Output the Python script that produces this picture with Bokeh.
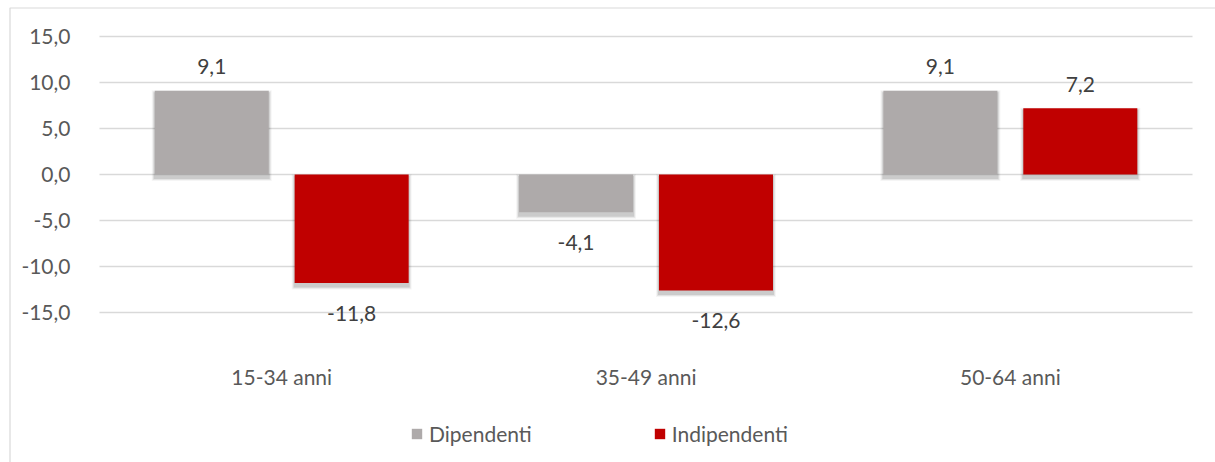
from bokeh.plotting import figure
from bokeh.models import (Range1d, LinearAxis, FixedTicker, CustomJSTickFormatter,
                          Legend, LegendItem, ColumnDataSource)
from bokeh.core.properties import value
from bokeh.embed import file_html
from bokeh.resources import INLINE

# ---- data -------------------------------------------------------------
categories = ["15-34 anni", "35-49 anni", "50-64 anni"]
series_names = ["Dipendenti", "Indipendenti"]
dipendenti = [9.1, -4.1, 9.1]
indipendenti = [-11.8, -12.6, 7.2]
y_ticks = [-15, -10, -5, 0, 5, 10, 15]

# ---- styling ----------------------------------------------------------
W, H = 1215, 462
FONT = "Lato"
FONT_SIZE = "21px"
GRAY = "#AEAAAA"
RED = "#C00000"
AXIS_TEXT = "#595959"
LABEL_TEXT = "#404040"
GRID = "#D9D9D9"

# pixel geometry of the chart area
CAT_PX = 364.33   # width of one category slot
X0_PX = 281.2     # centre of the first category
Y0_PX = 174.0     # position of the zero line
UNIT_PX = 9.2     # pixels per unit on the value axis
BAR_W = 0.313     # bar width in category units
DODGE = 0.192     # offset of each bar from the category centre


def xd(px):
    return (px - X0_PX) / CAT_PX


def yd(py):
    return (Y0_PX - py) / UNIT_PX


p = figure(width=W, height=H,
           x_range=Range1d(xd(0), xd(W)), y_range=Range1d(yd(H), yd(0)),
           x_axis_type=None, y_axis_type=None,
           output_backend="svg", toolbar_location=None,
           min_border_left=0, min_border_right=0, min_border_top=0, min_border_bottom=0)
p.outline_line_color = None
p.background_fill_color = "white"
p.border_fill_color = "white"

# chart border (top and left edges)
p.line(x=[xd(9.5), xd(9.5), xd(W + 5)], y=[yd(H + 5), yd(7.5), yd(7.5)],
       line_color="#D9D9D9", line_width=1.2)

# horizontal gridlines
p.segment(x0=xd(99), x1=xd(1192), y0=y_ticks, y1=y_ticks, line_color=GRID, line_width=1.4)

xs = list(range(len(categories)))

series = [
    (series_names[0], dipendenti, -DODGE, GRAY),
    (series_names[1], indipendenti, DODGE, RED),
]

px_x = 1.0 / CAT_PX
px_y = 1.0 / UNIT_PX
bar_renderers = []
for name, vals, off, color in series:
    lefts = [x + off - BAR_W / 2 for x in xs]
    rights = [x + off + BAR_W / 2 for x in xs]
    tops = [max(v, 0) for v in vals]
    bottoms = [min(v, 0) for v in vals]
    # soft drop shadow, cast slightly downwards
    for grow, alpha in [(3.0, 0.04), (2.0, 0.07), (1.0, 0.10)]:
        p.quad(left=[l - grow * px_x for l in lefts],
               right=[r + grow * px_x for r in rights],
               top=[t - (2.5 - grow) * px_y for t in tops],
               bottom=[b - (3.5 + grow) * px_y for b in bottoms],
               fill_color="black", fill_alpha=alpha, line_color=None)
    src = ColumnDataSource(dict(
        x=[x + off for x in xs], top=vals,
        label=[f"{v:.1f}".replace(".", ",") for v in vals],
        yoff=[-24 if v >= 0 else 30 for v in vals],
    ))
    r = p.vbar(x="x", top="top", bottom=0, width=BAR_W, source=src,
               fill_color=color, line_color=None)
    bar_renderers.append(r)
    p.text(x="x", y="top", text="label", y_offset="yoff", source=src,
           text_align="center", text_baseline="middle",
           text_font=value(FONT), text_font_size=FONT_SIZE, text_color=LABEL_TEXT)

# category labels
p.text(x=xs, y=[yd(376)] * len(xs), text=categories,
       text_align="center", text_baseline="middle",
       text_font=value(FONT), text_font_size=FONT_SIZE, text_color=AXIS_TEXT)

# value axis
yaxis = LinearAxis(fixed_location=xd(84),
                   ticker=FixedTicker(ticks=y_ticks),
                   formatter=CustomJSTickFormatter(code="return tick.toFixed(1).replace('.', ',')"))
yaxis.axis_line_color = None
yaxis.major_tick_line_color = None
yaxis.minor_tick_line_color = None
yaxis.major_label_standoff = 8
yaxis.major_label_text_font = FONT
yaxis.major_label_text_font_size = FONT_SIZE
yaxis.major_label_text_color = AXIS_TEXT
p.add_layout(yaxis, "left")

legend = Legend(items=[LegendItem(label=n, renderers=[r]) for n, r in zip(series_names, bar_renderers)],
                orientation="horizontal", location=(410, 16),
                glyph_width=13, glyph_height=13, label_standoff=6, spacing=121,
                padding=0, margin=0, border_line_color=None, background_fill_alpha=0,
                label_text_font=FONT, label_text_font_size=FONT_SIZE, label_text_color=AXIS_TEXT)
p.add_layout(legend)

open("out.html", "w").write(file_html(p, INLINE))
